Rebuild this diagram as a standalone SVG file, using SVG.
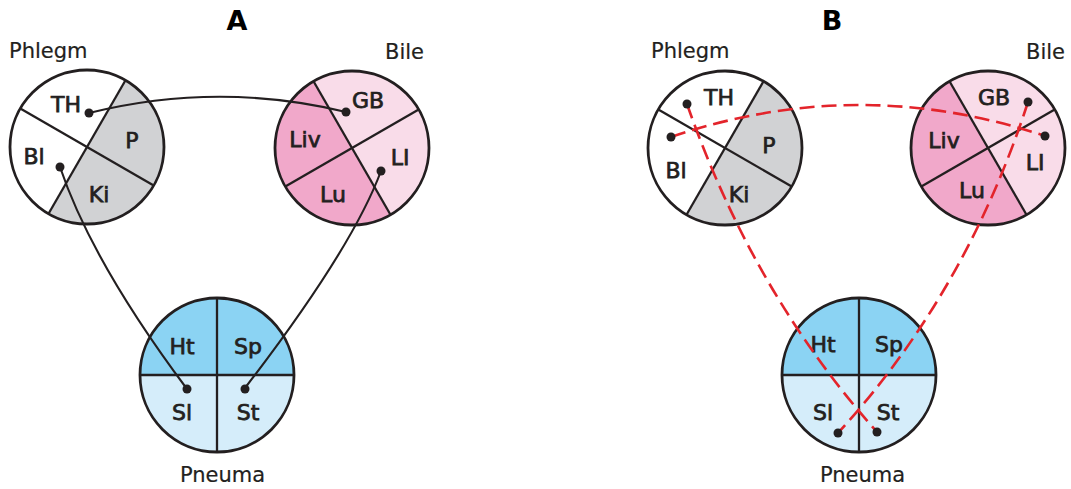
<svg xmlns="http://www.w3.org/2000/svg" width="1071" height="489" viewBox="0 0 1071 489">
<style>
.bg{fill:#ffffff}
.ring{fill:none;stroke:#231f20;stroke-width:2.8}
.div{stroke:#231f20;stroke-width:2.3;fill:none}
.gray{fill:#d1d2d4}
.white{fill:#ffffff}
.pl{fill:#f9dce9}
.pd{fill:#f1a8ca}
.bd{fill:#8bd3f3}
.bl{fill:#d5edfa}
.lab{font-family:"DejaVu Sans",sans-serif;font-size:22px;fill:#231f20;stroke:#231f20;stroke-width:0.75;text-anchor:middle}
.ttl{font-family:"DejaVu Sans",sans-serif;font-size:21px;fill:#231f20;stroke:#231f20;stroke-width:0.2}
.pan{font-family:"DejaVu Sans",sans-serif;font-size:27px;font-weight:bold;fill:#000;text-anchor:middle}
.con{fill:none;stroke:#231f20;stroke-width:2.1}
.red{fill:none;stroke:#e3242b;stroke-width:2.6;stroke-dasharray:15 7}
.dot{fill:#231f20}
</style>
<rect class="bg" x="0" y="0" width="1071" height="489"/>
<text class="pan" x="237" y="30">A</text>
<text class="pan" x="832" y="30">B</text>

<g id="A-phlegm">
<circle class="white" cx="87" cy="147" r="77"/>
<path class="gray" d="M125.5,80.3 A77,77 0 0 1 48.5,213.7 Z"/>
<line class="div" x1="20.3" y1="108.5" x2="153.7" y2="185.5"/>
<line class="div" x1="125.5" y1="80.3" x2="48.5" y2="213.7"/>
<circle class="ring" cx="87" cy="147" r="77"/>
<text class="ttl" x="9" y="58">Phlegm</text>
<text class="lab" x="66" y="112">TH</text>
<text class="lab" x="132" y="148">P</text>
<text class="lab" x="34" y="164">Bl</text>
<text class="lab" x="99" y="202">Ki</text>
</g>

<g id="A-bile">
<circle class="pl" cx="352" cy="148" r="77"/>
<path class="pd" d="M390.5,214.7 A77,77 0 0 1 313.5,81.3 Z"/>
<line class="div" x1="313.5" y1="81.3" x2="390.5" y2="214.7"/>
<line class="div" x1="418.7" y1="109.5" x2="285.3" y2="186.5"/>
<circle class="ring" cx="352" cy="148" r="77"/>
<text class="ttl" x="385" y="59">Bile</text>
<text class="lab" x="368" y="108">GB</text>
<text class="lab" x="305" y="147">Liv</text>
<text class="lab" x="400" y="165">LI</text>
<text class="lab" x="333" y="202">Lu</text>
</g>

<g id="A-pneuma">
<circle class="bl" cx="217" cy="375" r="77"/>
<path class="bd" d="M140,375 A77,77 0 0 1 294,375 Z"/>
<line class="div" x1="140" y1="375" x2="294" y2="375"/>
<line class="div" x1="217" y1="298" x2="217" y2="452"/>
<circle class="ring" cx="217" cy="375" r="77"/>
<text class="ttl" x="180" y="482">Pneuma</text>
<text class="lab" x="182" y="354">Ht</text>
<text class="lab" x="248" y="354">Sp</text>
<text class="lab" x="182" y="420">Sl</text>
<text class="lab" x="248" y="420">St</text>
</g>

<g id="B-phlegm">
<circle class="white" cx="725" cy="148" r="77"/>
<path class="gray" d="M763.5,81.3 A77,77 0 0 1 686.5,214.7 Z"/>
<line class="div" x1="658.3" y1="109.5" x2="791.7" y2="186.5"/>
<line class="div" x1="763.5" y1="81.3" x2="686.5" y2="214.7"/>
<circle class="ring" cx="725" cy="148" r="77"/>
<text class="ttl" x="651" y="58">Phlegm</text>
<text class="lab" x="719" y="105">TH</text>
<text class="lab" x="769" y="153">P</text>
<text class="lab" x="676" y="178">Bl</text>
<text class="lab" x="739" y="202">Ki</text>
</g>

<g id="B-bile">
<circle class="pl" cx="988" cy="148" r="77"/>
<path class="pd" d="M1026.5,214.7 A77,77 0 0 1 949.5,81.3 Z"/>
<line class="div" x1="949.5" y1="81.3" x2="1026.5" y2="214.7"/>
<line class="div" x1="1054.7" y1="109.5" x2="921.3" y2="186.5"/>
<circle class="ring" cx="988" cy="148" r="77"/>
<text class="ttl" x="1026" y="59">Bile</text>
<text class="lab" x="994" y="105">GB</text>
<text class="lab" x="944" y="148">Liv</text>
<text class="lab" x="1035" y="170">LI</text>
<text class="lab" x="972" y="198">Lu</text>
</g>

<g id="B-pneuma">
<circle class="bl" cx="859" cy="375" r="77"/>
<path class="bd" d="M782,375 A77,77 0 0 1 936,375 Z"/>
<line class="div" x1="782" y1="375" x2="936" y2="375"/>
<line class="div" x1="859" y1="298" x2="859" y2="452"/>
<circle class="ring" cx="859" cy="375" r="77"/>
<text class="ttl" x="820" y="482">Pneuma</text>
<text class="lab" x="823" y="352">Ht</text>
<text class="lab" x="889" y="352">Sp</text>
<text class="lab" x="823" y="420">Sl</text>
<text class="lab" x="888" y="420">St</text>
</g>

<g id="connectors">
<path class="con" d="M89,113 Q218,81 346,112"/>
<path class="con" d="M60,167 Q92,262 187,389"/>
<path class="con" d="M381,171 Q352,249 245,388"/>
<circle class="dot" cx="89" cy="113" r="4.5"/>
<circle class="dot" cx="346" cy="112" r="4.5"/>
<circle class="dot" cx="60" cy="167" r="4.5"/>
<circle class="dot" cx="381" cy="171" r="4.5"/>
<circle class="dot" cx="187" cy="389" r="4.5"/>
<circle class="dot" cx="245" cy="389" r="4.5"/>

<path class="red" d="M687,104 Q753,293 877,432"/>
<path class="red" d="M671,137 Q858,73.5 1045,136"/>
<path class="red" d="M1028,102 Q966,293 838,433"/>
<circle class="dot" cx="687" cy="104" r="4.5"/>
<circle class="dot" cx="671" cy="137" r="4.5"/>
<circle class="dot" cx="1028" cy="102" r="4.5"/>
<circle class="dot" cx="1045" cy="136" r="4.5"/>
<circle class="dot" cx="838" cy="433" r="4.5"/>
<circle class="dot" cx="877" cy="432" r="4.5"/>
</g>
</svg>
